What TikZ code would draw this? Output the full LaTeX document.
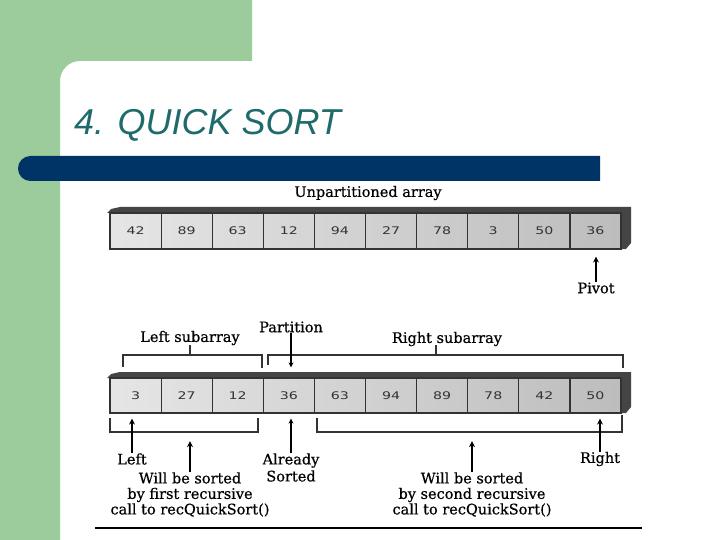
\documentclass[tikz,border=0pt]{standalone}
\usepackage{fontspec}
\setmainfont{DejaVu Serif}
\newfontfamily\lblfont[FakeBold=0.6]{DejaVu Serif}
\newfontfamily\titlefont{Liberation Sans}
\newfontfamily\cellfont[FakeStretch=1.35]{DejaVu Sans}
\usetikzlibrary{arrows.meta}
\definecolor{slidegreen}{HTML}{9CCC9C}
\definecolor{navy}{HTML}{003366}
\definecolor{titleteal}{HTML}{1F6B6B}
\definecolor{band}{HTML}{454545}
\definecolor{ink}{HTML}{333333}
\tikzset{
  cell/.style={draw=ink, line width=1.2pt, minimum width=51.1pt, inner sep=0pt,
    font=\cellfont\fontsize{10.5}{11}\selectfont, text=ink},
  lbl/.style={font=\lblfont\fontsize{14.5}{15.5}\selectfont, inner sep=0pt, align=center, text=black},
  bracket/.style={draw=ink, line width=1.3pt},
  uparrow/.style={draw=black, line width=1.8pt, -{Stealth[length=6pt,width=6pt]}},
  thinarrow/.style={draw=black, line width=1.2pt, -{Stealth[length=5pt,width=5pt]}},
}
\begin{document}
\begin{tikzpicture}[x=1pt,y=-1pt]
\useasboundingbox (0,0) rectangle (720,540);
\fill[white] (0,0) rectangle (720,540);
% green background corner
\fill[slidegreen] (0,0) -- (252,0) -- (252,61) [rounded corners=20] -- (60,61) [sharp corners] -- (60,540) -- (0,540) -- cycle;
% navy bar
\fill[navy] (600,156) [rounded corners=12.4] -- (18,156) -- (18,181) [sharp corners] -- (600,181) -- cycle;
% title
\node[anchor=base west, inner sep=0pt, font=\titlefont\itshape\fontsize{36}{40}\selectfont, text=titleteal] (title) at (74,135) {4. QUICK SORT};

% ---------- array 1 ----------
\fill[band] (107,213) -- (111,209) -- (120,207) -- (631,207) -- (631,243) -- (626,249) -- (621,249) -- (621,213) -- cycle;
\shade[left color=gray!20, right color=gray!52] (110,213) rectangle (621,249);
\foreach \v [count=\i] in {42,89,63,12,94,27,78,3,50,36}
  \node[cell, minimum height=36pt] (a\i) at ({110+51.1*(\i-0.5)},231) {\v};
\node[lbl] (unp) at (368,193) {Unpartitioned array};
\node[lbl] (pivot) at (596,288) {Pivot};
\draw[uparrow] (pivot.north) -- ([yshift=-7pt]a10.south -| pivot.north);

% ---------- array 2 ----------
\fill[band] (107,378) -- (111,374) -- (120,372) -- (631,372) -- (631,407) -- (626,413) -- (621,413) -- (621,378) -- cycle;
\shade[left color=gray!20, right color=gray!52] (110,378) rectangle (621,413);
\foreach \v [count=\i] in {3,27,12,36,63,94,89,78,42,50}
  \node[cell, minimum height=35pt] (b\i) at ({110+51.1*(\i-0.5)},395.5) {\v};

% top brackets
\node[lbl] (lsub) at (190,338) {Left subarray};
\draw[bracket] (123,367) -- (123,355) -- (262,355) -- (262,368);
\draw[bracket] (190,355) -- (lsub.south);
\node[lbl] (rsub) at (447,339) {Right subarray};
\draw[bracket] (268,365) -- (268,355) -- (623,355) -- (623,368);
\draw[bracket] (436,355) -- (436,345);
\node[lbl] (part) at (291,327) {Partition};
\draw[thinarrow] (part.south) -- ([yshift=10pt]b4.north -| part.south);

% bottom brackets
\draw[bracket] (110,418) -- (110,432) -- (258,432) -- (258,418);
\draw[bracket] (317,418) -- (317,432) -- (622,432) -- (622,415);

\node[lbl] (left) at (132,459) {Left};
\draw[uparrow] (left.north) -- ([yshift=-5pt]b1.south -| left.north);
\node[lbl, font=\lblfont\fontsize{14.5}{17}\selectfont] (already) at (291,467.5) {Already\\Sorted};
\draw[thinarrow] (already.north) -- ([yshift=-5pt]b4.south -| already.north);
\node[lbl] (right) at (600,459) {Right};
\draw[uparrow] (right.north) -- ([yshift=-5pt]b10.south -| right.north);

\node[lbl] (first) at (190,494.5) {Will be sorted\\by first recursive\\call to recQuickSort()};
\draw[uparrow] (first.north) -- ++(0,-31);
\node[lbl] (second) at (472,494.5) {Will be sorted\\by second recursive\\call to recQuickSort()};
\draw[uparrow] (second.north) -- ++(0,-31);

% bottom rule
\draw[line width=1.3pt] (95,528) -- (642,528);
\end{tikzpicture}
\end{document}
